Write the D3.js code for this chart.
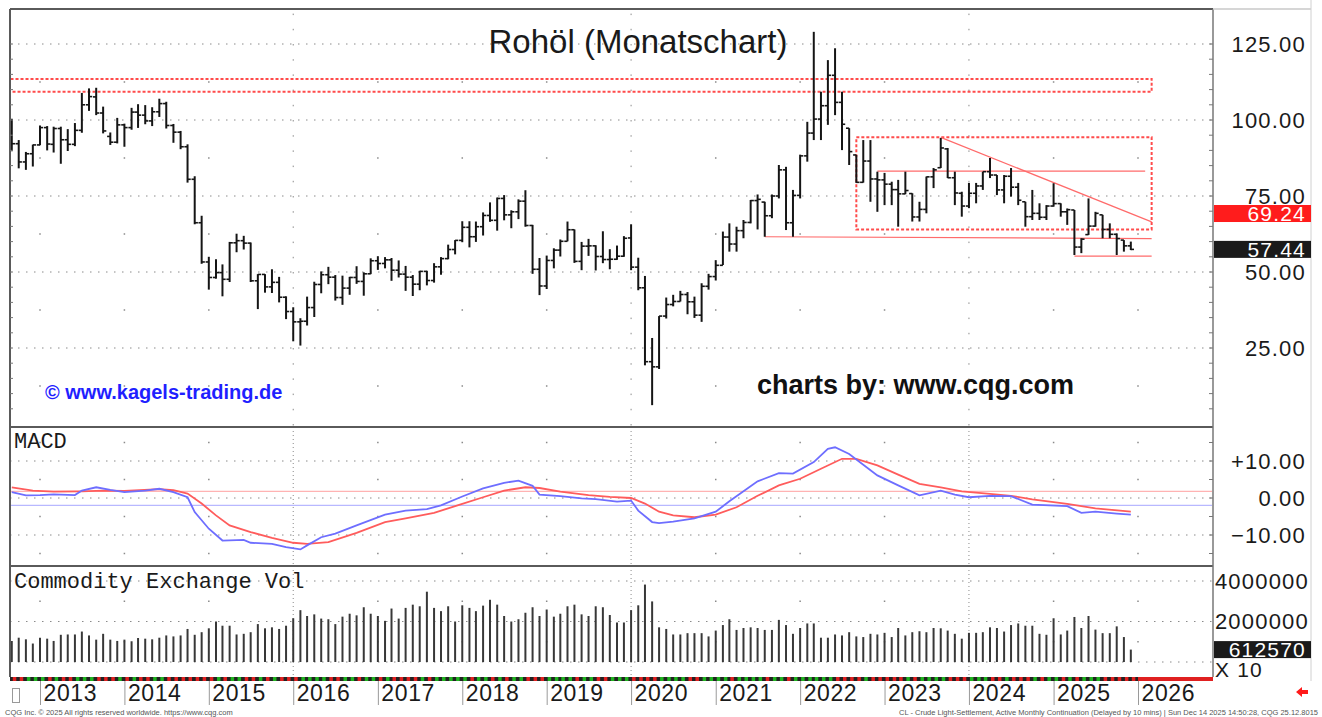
<!DOCTYPE html>
<html lang="de">
<head>
<meta charset="utf-8">
<title>Rohöl (Monatschart)</title>
<script src="https://d3js.org/d3.v7.min.js"></script>
<style>
  body { margin: 0; background: #fff; }
  svg { display: block; }
  .axis text { font-family: "Liberation Sans", Arial, sans-serif; font-size: 22px; letter-spacing: 1.2px; fill: #1a1a1a; }
  .tag { font-family: "Liberation Sans", Arial, sans-serif; font-size: 21px; letter-spacing: 1.2px; fill: #fff; }
  .mono { font-family: "Liberation Mono", "DejaVu Sans Mono", monospace; font-size: 22px; fill: #1a1a1a; }
  .foot { font-family: "Liberation Sans", Arial, sans-serif; font-size: 7.5px; fill: #555; }
</style>
</head>
<body>
<svg width="1322" height="717"></svg>
<script>
// monthly OHLC, Sep 2012 .. Dec 2025 (one row per year)
const opens = [
  96.5, 92.2, 86.2, 88.9,
  91.8, 97.5, 92.0, 97.2, 93.5, 92.0, 96.6, 105.0, 107.6, 102.3, 94.6, 92.7,
  98.4, 97.5, 102.6, 101.6, 99.7, 102.7, 105.4, 98.2, 96.0, 91.2, 80.5, 66.2,
  53.3, 48.2, 49.8, 47.6, 59.6, 60.3, 59.5, 47.1, 49.2, 45.1, 46.6, 41.7,
  37.0, 33.6, 33.8, 38.3, 45.9, 49.1, 48.3, 41.6, 44.7, 48.2, 46.9, 49.4,
  53.7, 52.8, 54.0, 50.6, 49.3, 48.3, 46.0, 50.2, 47.2, 51.7, 54.4, 57.4,
  60.4, 64.7, 61.6, 64.9, 68.6, 67.0, 74.2, 68.8, 69.8, 73.3, 65.3, 50.9,
  45.4, 53.8, 57.2, 60.1, 63.9, 53.5, 58.5, 58.6, 55.1, 54.1, 54.2, 55.2,
  61.2, 51.6, 44.8, 20.5, 18.8, 35.5, 39.3, 40.3, 42.6, 40.2, 35.8, 45.3,
  48.5, 52.2, 61.5, 59.2, 63.6, 66.3, 73.5, 73.0, 68.5, 75.0, 83.6, 66.2,
  75.2, 88.2, 95.7, 100.3, 104.7, 114.7, 105.8, 97.3, 88.5, 79.5, 86.5, 80.6,
  80.3, 78.9, 77.1, 75.7, 75.8, 68.1, 70.6, 81.3, 84.3, 90.5, 81.0, 75.9,
  71.7, 75.9, 78.3, 83.0, 81.9, 77.0, 81.5, 77.9, 73.1, 68.2, 69.3, 68.0,
  71.7, 72.5, 69.8, 70.4, 58.2, 62.3, 65.1, 68.8, 64.0, 62.4, 60.5, 58.6
];
const highs = [
  100.4, 93.4, 89.5, 91.9,
  98.2, 98.0, 97.8, 97.8, 97.0, 99.0, 108.9, 110.4, 110.6, 104.4, 95.9, 100.7,
  98.8, 104.0, 105.2, 104.9, 104.2, 107.0, 106.0, 98.7, 96.4, 92.0, 81.5, 68.5,
  55.0, 54.2, 52.5, 59.9, 62.6, 61.9, 59.7, 49.3, 49.3, 50.9, 48.4, 42.0,
  38.4, 34.8, 41.9, 46.8, 50.2, 51.7, 49.0, 48.8, 48.4, 51.9, 49.9, 54.5,
  55.2, 54.9, 54.6, 53.8, 52.0, 49.0, 50.4, 50.4, 52.9, 54.9, 59.0, 60.5,
  66.7, 66.7, 66.6, 69.6, 72.9, 74.5, 75.3, 70.3, 73.9, 76.9, 65.5, 54.6,
  55.4, 57.8, 60.7, 66.6, 64.0, 59.9, 60.9, 58.8, 63.4, 57.5, 58.7, 61.8,
  65.7, 54.7, 48.7, 28.3, 35.5, 41.6, 42.5, 43.8, 43.4, 41.9, 46.3, 49.4,
  53.9, 63.3, 66.0, 64.9, 67.1, 73.7, 75.5, 73.1, 75.5, 85.2, 84.6, 77.0,
  88.6, 99.4, 129.0, 109.3, 119.7, 123.6, 109.3, 97.3, 88.5, 93.4, 93.4, 83.0,
  82.6, 79.7, 80.3, 83.0, 75.9, 73.1, 81.4, 84.2, 94.1, 90.8, 83.0, 76.4,
  79.3, 79.3, 83.0, 87.5, 81.9, 81.9, 84.2, 79.3, 73.1, 77.0, 72.6, 72.0,
  79.2, 72.6, 70.9, 70.4, 61.1, 74.2, 69.8, 68.8, 66.0, 62.7, 60.5, 60.0
];
const lows = [
  89.7, 84.1, 83.6, 84.7,
  91.7, 90.0, 89.3, 85.6, 89.8, 91.4, 95.8, 103.0, 101.6, 95.6, 91.8, 92.3,
  91.2, 96.8, 97.4, 98.6, 98.0, 101.0, 97.2, 92.5, 90.4, 79.4, 65.7, 52.7,
  44.2, 47.8, 42.0, 46.7, 56.5, 57.4, 46.7, 37.8, 43.2, 43.1, 40.0, 34.5,
  27.2, 25.8, 32.4, 35.2, 43.0, 46.0, 40.6, 39.2, 42.5, 46.1, 42.2, 49.3,
  50.7, 51.2, 47.1, 48.2, 43.8, 42.1, 44.0, 45.6, 46.5, 49.1, 54.2, 55.8,
  59.8, 58.1, 59.9, 62.0, 66.5, 63.6, 67.0, 64.4, 67.4, 64.9, 49.4, 42.4,
  44.4, 51.2, 55.1, 60.1, 53.0, 50.6, 55.3, 50.5, 52.9, 50.9, 54.0, 55.0,
  50.6, 44.0, 19.3, 6.2, 18.1, 34.7, 38.7, 40.3, 36.1, 34.9, 33.6, 44.2,
  47.2, 52.3, 56.7, 56.7, 61.1, 66.0, 64.0, 61.6, 67.7, 74.2, 63.8, 61.6,
  74.2, 86.3, 93.4, 93.4, 98.4, 101.6, 90.1, 85.2, 79.3, 79.4, 73.1, 69.8,
  72.0, 72.0, 64.9, 75.6, 66.6, 66.6, 69.3, 77.6, 84.2, 80.9, 72.0, 68.2,
  71.0, 72.6, 77.0, 80.9, 75.3, 72.6, 74.8, 72.0, 64.9, 67.1, 67.1, 67.1,
  71.5, 68.2, 65.5, 55.6, 56.2, 62.2, 64.9, 61.1, 61.1, 55.6, 56.7, 57.2
];
const closes = [
  92.2, 86.2, 88.9, 91.8,
  97.5, 92.1, 97.2, 93.5, 92.0, 96.6, 105.0, 107.7, 102.3, 96.4, 92.7, 98.4,
  97.5, 102.6, 101.6, 99.7, 102.7, 105.4, 98.2, 96.0, 91.2, 80.5, 66.2, 53.3,
  48.2, 49.8, 47.6, 59.6, 60.3, 59.5, 47.1, 49.2, 45.1, 46.6, 41.7, 37.0,
  33.6, 33.8, 38.3, 45.9, 49.1, 48.3, 41.6, 44.7, 48.2, 46.9, 49.4, 53.7,
  52.8, 54.0, 50.6, 49.3, 48.3, 46.0, 50.2, 47.2, 51.7, 54.4, 57.4, 60.4,
  64.7, 61.6, 64.9, 68.6, 67.0, 74.2, 68.8, 69.8, 73.3, 65.3, 50.9, 45.4,
  53.8, 57.2, 60.1, 63.9, 53.5, 58.5, 58.6, 55.1, 54.1, 54.2, 55.2, 61.1,
  51.6, 44.8, 20.5, 18.8, 35.5, 39.3, 40.3, 42.6, 40.2, 35.8, 45.3, 48.5,
  52.2, 61.5, 59.2, 63.6, 66.3, 73.5, 73.9, 68.5, 75.0, 83.6, 66.2, 75.2,
  88.2, 95.7, 100.3, 104.7, 114.7, 105.8, 98.6, 89.6, 79.5, 86.5, 80.6, 80.3,
  78.9, 77.1, 75.7, 76.8, 68.1, 70.6, 81.3, 83.6, 90.8, 81.0, 76.0, 71.7,
  75.9, 78.3, 83.0, 81.9, 77.0, 81.5, 77.9, 73.6, 68.2, 69.3, 68.0, 71.7,
  72.5, 69.8, 70.5, 58.2, 60.8, 65.1, 69.3, 64.0, 62.4, 61.0, 58.6, 57.44
];
const volumes = [
  1040000, 1200000, 1120000, 912000,
  1200000, 1152000, 1040000, 1344000, 1360000, 1360000, 1504000, 1312000, 1104000, 1392000, 1104000, 1040000,
  1104000, 1024000, 1184000, 1152000, 1120000, 1200000, 1312000, 1264000, 1312000, 1632000, 1344000, 1472000,
  1664000, 2000000, 1792000, 1792000, 1360000, 1392000, 1472000, 1872000, 1664000, 1712000, 1632000, 1792000,
  2160000, 2560000, 2272000, 2352000, 2144000, 2112000, 1872000, 2240000, 2384000, 2304000, 2704000, 2384000,
  2272000, 2032000, 2640000, 2144000, 2672000, 2832000, 2752000, 3472000, 2672000, 2512000, 2752000, 2000000,
  2800000, 2672000, 2512000, 2784000, 3072000, 2832000, 2272000, 2000000, 2112000, 2432000, 2704000, 2272000,
  2592000, 2240000, 2384000, 2752000, 2832000, 2352000, 2272000, 2752000, 2704000, 2320000, 1952000, 1952000,
  2560000, 2800000, 3824000, 2992000, 1712000, 1632000, 1360000, 1360000, 1424000, 1424000, 1424000, 1264000,
  1552000, 1824000, 2112000, 1584000, 1680000, 1712000, 1680000, 1584000, 1584000, 2080000, 1824000, 1392000,
  1680000, 1904000, 1904000, 1200000, 1200000, 1360000, 1312000, 1472000, 1264000, 1232000, 1392000, 1360000,
  1440000, 1232000, 1680000, 1312000, 1472000, 1520000, 1472000, 1680000, 1664000, 1552000, 1392000, 1152000,
  1440000, 1440000, 1472000, 1712000, 1680000, 1504000, 1824000, 1904000, 1792000, 1792000, 1392000, 1344000,
  2160000, 1360000, 1552000, 2224000, 1680000, 2272000, 1600000, 1424000, 1424000, 1760000, 1232000, 612570
];

// MACD (blue) and signal (red)
const macdDates = ["2012-09","2012-11","2013-01","2013-03","2013-06","2013-07","2013-09","2013-11","2014-01","2014-04","2014-06","2014-08","2014-10","2014-11","2015-01","2015-03","2015-06","2015-07","2015-10","2015-12","2016-02","2016-03","2016-05","2016-07","2016-10","2017-02","2017-05","2017-08","2017-10","2018-01","2018-04","2018-07","2018-09","2018-11","2018-12","2019-03","2019-06","2019-08","2019-11","2020-01","2020-02","2020-04","2020-05","2020-07","2020-10","2021-01","2021-03","2021-07","2021-10","2021-12","2022-03","2022-05","2022-06","2022-08","2022-12","2023-03","2023-06","2023-09","2023-11","2024-01","2024-04","2024-07","2024-10","2025-03","2025-05","2025-07","2025-10","2025-12"];
const macdValues = [1.6, 0.7, 0.8, 1.0, 0.8, 2.0, 2.9, 2.2, 1.6, 2.0, 2.5, 1.6, 0.2, -3.8, -8.3, -11.5, -11.3, -12.1, -12.4, -13.3, -13.9, -12.8, -10.6, -9.6, -7.4, -4.5, -3.4, -3.0, -2.0, 0.4, 2.6, 4.1, 4.7, 3.3, 0.9, 0.5, -0.1, -0.3, -1.0, -0.7, -3.4, -6.5, -6.8, -6.4, -5.5, -3.7, -0.9, 4.5, 6.7, 6.6, 9.7, 13.3, 13.7, 11.9, 6.1, 3.4, 0.7, 2.0, 0.9, 0.2, 0.6, 0.5, -1.8, -2.2, -4.0, -3.7, -4.2, -4.5];
const signalDates = ["2012-09","2012-12","2013-03","2013-07","2013-10","2014-01","2014-06","2014-08","2014-10","2014-12","2015-02","2015-04","2015-07","2015-10","2016-01","2016-03","2016-06","2016-10","2017-02","2017-05","2017-09","2018-01","2018-04","2018-07","2018-10","2018-12","2019-03","2019-07","2019-10","2020-01","2020-03","2020-05","2020-07","2020-10","2021-01","2021-04","2021-07","2021-10","2022-01","2022-04","2022-07","2022-09","2022-12","2023-03","2023-06","2023-09","2023-12","2024-04","2024-07","2024-10","2025-03","2025-07","2025-12"];
const signalValues = [2.9, 2.0, 1.7, 1.8, 2.0, 1.9, 2.4, 2.1, 1.2, -1.5, -4.7, -7.4, -9.2, -10.8, -12.1, -12.4, -11.9, -9.4, -6.5, -5.5, -4.0, -1.6, 0.2, 2.0, 2.9, 2.7, 1.7, 0.8, 0.3, 0.0, -1.5, -3.7, -4.7, -5.2, -4.5, -2.5, 0.6, 3.4, 5.2, 7.9, 10.6, 10.6, 8.8, 6.3, 3.8, 2.9, 1.8, 1.1, 0.6, -0.4, -1.6, -2.8, -3.7];
const macdLevels = [1.8, -2.0];   // red and blue reference lines

// tick labels
const priceTicks = [25, 50, 75, 100, 125];
const macdTicks = [-10, 0, 10];
const volTicks = [2000000, 4000000];
const markerPrice = 69.24;
const lastPrice = 57.44;
const lastVolume = 612570;

// drawn annotations: [month, price]
const resistanceZone = [["2012-06", 109.3], ["2026-03", 113.5]];
const rangeBox = [["2022-09", 64.0], ["2026-03", 94.3]];
const trendLine = [["2023-09", 94.3], ["2026-03", 66.5]];
const midLine = [["2022-12", 83.2], ["2026-02", 83.2]];
const supportLine = [["2021-08", 61.6], ["2026-03", 61.0]];
const lowLine = [["2025-04", 55.2], ["2026-03", 55.2]];

const parseMonth = d3.timeParse("%Y-%m");
const months = d3.timeMonth.range(new Date(2012, 8, 1), new Date(2026, 0, 1));
const bars = months.map((date, i) => ({date, o: opens[i], h: highs[i], l: lows[i], c: closes[i], v: volumes[i]}));
const macd = macdDates.map((d, i) => ({date: parseMonth(d), v: macdValues[i]}));
const signal = signalDates.map((d, i) => ({date: parseMonth(d), v: signalValues[i]}));

const svg = d3.select("svg");
const L = 10, R = 1213;
const topMain = 9, botMain = 427, botMacd = 566, botVol = 677;

const x = d3.scaleTime().domain([new Date(2013, 0, 1), new Date(2026, 0, 1)]).range([40, 1138]);
const y = d3.scaleLinear().domain([0, 125]).range([424, 44]);
const yM = d3.scaleLinear().domain([-10, 10]).range([535, 461]);
const yV = d3.scaleLinear().domain([0, 4000000]).range([662, 581]);

const defs = svg.append("defs");
[["clipMain", topMain, botMain], ["clipMacd", botMain, botMacd], ["clipVol", botMacd, botVol]].forEach(([id, t, b]) => {
  defs.append("clipPath").attr("id", id).append("rect")
    .attr("x", L + 1).attr("y", t + 1).attr("width", R - L - 2).attr("height", b - t - 2);
});

// grid: dotted lines, dotted verticals every 4 years, single dots in between
const years = d3.timeYear.range(new Date(2013, 0, 1), new Date(2026, 0, 2));
const isBig = d => [2016, 2020, 2024].includes(d.getFullYear());
const bigYears = years.filter(isBig);
const smallYears = years.filter(d => !isBig(d));

function grid(scale, lines, mids, top, bottom, vDash) {
  const g = svg.append("g").attr("fill", "#8a8a8a").attr("stroke", "#8a8a8a");
  g.selectAll("line.h").data(lines).join("line").attr("class", "h")
    .attr("x1", L).attr("x2", R).attr("y1", d => scale(d)).attr("y2", d => scale(d))
    .attr("stroke-dasharray", "1.5,6.5");
  g.selectAll("line.v").data(bigYears).join("line").attr("class", "v")
    .attr("x1", d => x(d)).attr("x2", d => x(d)).attr("y1", top).attr("y2", bottom)
    .attr("stroke-dasharray", vDash);
  g.selectAll("rect").data(d3.cross(smallYears, mids)).join("rect")
    .attr("stroke", "none")
    .attr("x", d => x(d[0]) - 0.75).attr("y", d => scale(d[1]) - 0.75)
    .attr("width", 1.5).attr("height", 1.5);
}
grid(y, priceTicks, [12.5, 37.5, 62.5, 87.5, 112.5], y(135), botMain, "1.5,13.7");
grid(yM, macdTicks, [-15, -5, 5, 15], botMain, botMacd, "1,3");
grid(yV, [0].concat(volTicks), [1000000, 3000000], botMacd, botVol, "1,3");

// annotations
const ann = svg.append("g").attr("clip-path", "url(#clipMain)").attr("fill", "none");
function box(pts) {
  const x0 = x(parseMonth(pts[0][0])), x1 = x(parseMonth(pts[1][0]));
  const y0 = y(pts[1][1]), y1 = y(pts[0][1]);
  ann.append("rect").attr("x", x0).attr("y", y0).attr("width", x1 - x0).attr("height", y1 - y0)
    .attr("stroke", "#ff2b2b").attr("stroke-opacity", 0.85).attr("stroke-width", 2).attr("stroke-dasharray", "3,2");
}
box(resistanceZone);
box(rangeBox);
const annLine = d3.line().x(d => x(parseMonth(d[0]))).y(d => y(d[1]));
[trendLine, midLine, supportLine, lowLine].forEach(pts => {
  ann.append("path").attr("d", annLine(pts)).attr("stroke", "#ff6b6b").attr("stroke-width", 1.2);
});

// price bars
const gBars = svg.append("g").attr("clip-path", "url(#clipMain)").attr("stroke", "#151515");
gBars.selectAll("line.hl").data(bars).join("line").attr("class", "hl")
  .attr("stroke-width", 2)
  .attr("x1", d => x(d.date)).attr("x2", d => x(d.date))
  .attr("y1", d => y(d.h)).attr("y2", d => y(d.l));
gBars.selectAll("line.op").data(bars).join("line").attr("class", "op")
  .attr("stroke-width", 1.6)
  .attr("x1", d => x(d.date) - 3.2).attr("x2", d => x(d.date))
  .attr("y1", d => y(d.o)).attr("y2", d => y(d.o));
gBars.selectAll("line.cl").data(bars).join("line").attr("class", "cl")
  .attr("stroke-width", 1.6)
  .attr("x1", d => x(d.date)).attr("x2", d => x(d.date) + 3.2)
  .attr("y1", d => y(d.c)).attr("y2", d => y(d.c));

// MACD panel
const gM = svg.append("g").attr("clip-path", "url(#clipMacd)").attr("fill", "none");
gM.selectAll("line.lvl").data(macdLevels).join("line").attr("class", "lvl")
  .attr("x1", L).attr("x2", R).attr("y1", d => yM(d)).attr("y2", d => yM(d))
  .attr("stroke", (d, i) => i === 0 ? "#ffb3b3" : "#b8b8ff").attr("stroke-width", 1.2);
const mLine = d3.line().x(d => x(d.date)).y(d => yM(d.v));
gM.append("path").attr("d", mLine(signal)).attr("stroke", "#ff5c5c").attr("stroke-width", 1.8);
gM.append("path").attr("d", mLine(macd)).attr("stroke", "#6e6eff").attr("stroke-width", 1.8);

// volume panel
svg.append("g").attr("clip-path", "url(#clipVol)").attr("stroke", "#383838").attr("stroke-width", 2)
  .selectAll("line").data(bars).join("line")
  .attr("x1", d => x(d.date)).attr("x2", d => x(d.date))
  .attr("y1", yV(0)).attr("y2", d => yV(d.v));

// frame
const frame = svg.append("g").attr("stroke", "#5a5a5a").attr("stroke-width", 2);
frame.append("line").attr("x1", L).attr("x2", R).attr("y1", topMain).attr("y2", topMain);
[botMain, botMacd].forEach(v => frame.append("line").attr("x1", L).attr("x2", R).attr("y1", v).attr("y2", v));
frame.append("line").attr("x1", L).attr("x2", L).attr("y1", topMain).attr("y2", botVol);
frame.append("line").attr("x1", R).attr("x2", R).attr("y1", topMain).attr("y2", botVol).attr("stroke", "#777").attr("stroke-width", 1.5);
svg.append("line").attr("x1", R).attr("x2", 1311).attr("y1", topMain).attr("y2", topMain).attr("stroke", "#c8c8c8").attr("stroke-width", 1.5);
svg.append("line").attr("x1", 1311).attr("x2", 1311).attr("y1", 0).attr("y2", 681).attr("stroke", "#d0d0d0").attr("stroke-width", 1);

// small ticks on the panel edges
const ticks = svg.append("g").attr("stroke", "#777").attr("stroke-width", 1);
const mainMinor = d3.range(5, 130, 5).filter(p => y(p) > topMain + 2);
ticks.selectAll("line.rm").data(mainMinor).join("line").attr("class", "rm")
  .attr("x1", R - 4).attr("x2", R).attr("y1", d => y(d)).attr("y2", d => y(d));
ticks.selectAll("line.lm").data(mainMinor).join("line").attr("class", "lm")
  .attr("x1", L).attr("x2", L + 3).attr("y1", d => y(d)).attr("y2", d => y(d));
ticks.selectAll("line.rq").data(d3.range(-15, 20, 5)).join("line").attr("class", "rq")
  .attr("x1", R - 4).attr("x2", R).attr("y1", d => yM(d)).attr("y2", d => yM(d));

// right axes
function styleAxis(g) {
  g.attr("class", "axis");
  g.select(".domain").remove();
  g.selectAll(".tick line").remove();
}
svg.append("g").attr("transform", "translate(1306,0)")
  .call(d3.axisLeft(y).tickValues(priceTicks).tickFormat(d3.format(".2f")).tickSize(0).tickPadding(0))
  .call(styleAxis);
svg.append("g").attr("transform", "translate(1306,0)")
  .call(d3.axisLeft(yM).tickValues(macdTicks).tickFormat(d => (d > 0 ? "+" : "") + d3.format(".2f")(d)).tickSize(0).tickPadding(0))
  .call(styleAxis);
svg.append("g").attr("transform", "translate(1309,0)")
  .call(d3.axisLeft(yV).tickValues(volTicks).tickFormat(d3.format("d")).tickSize(0).tickPadding(0))
  .call(styleAxis);

// value tags on the right axis
function tag(value, scale, fill, fmt) {
  const cy = scale(value);
  svg.append("rect").attr("x", R + 1).attr("y", cy - 8.5).attr("width", 1311 - R - 1).attr("height", 17).attr("fill", fill);
  svg.append("text").attr("class", "tag").attr("x", 1306).attr("y", cy).attr("dy", "0.36em")
    .attr("text-anchor", "end").text(fmt(value));
}
tag(markerPrice, y, "#ff1c1c", d3.format(".2f"));
tag(lastPrice, y, "#1a1a1a", d3.format(".2f"));
tag(lastVolume, yV, "#1a1a1a", d3.format("d"));
svg.append("text").attr("x", R + 2).attr("y", 677)
  .attr("font-family", "Liberation Sans, Arial, sans-serif").attr("font-size", 21).attr("letter-spacing", "1.2px").attr("fill", "#1a1a1a")
  .text("X 10");

// month strip and year axis
const x2026 = x(new Date(2026, 0, 1));
svg.append("rect").attr("x", L).attr("y", 677).attr("width", x2026 - L).attr("height", 4).attr("fill", "#222");
svg.selectAll("rect.strip").data(bars).join("rect").attr("class", "strip")
  .attr("x", d => x(d.date) + 1).attr("y", 677).attr("width", 3.5).attr("height", 4)
  .attr("fill", d => d.c >= d.o ? "#1fb31f" : "#e02020");
svg.append("rect").attr("x", x2026).attr("y", 677).attr("width", R - x2026).attr("height", 4).attr("fill", "#e02020");

const gx = svg.append("g").attr("transform", "translate(0,681)")
  .call(d3.axisBottom(x).ticks(d3.timeYear.every(1)).tickFormat(d3.timeFormat("%Y")).tickSize(24));
gx.select(".domain").remove();
gx.selectAll(".tick line").attr("stroke", "#9a9a9a");
gx.selectAll(".tick text").attr("x", 3).attr("y", 12).attr("dy", "0.36em").attr("text-anchor", "start")
  .attr("font-family", "Liberation Sans, Arial, sans-serif").attr("font-size", 23).attr("letter-spacing", "0.6px").attr("fill", "#1a1a1a");

svg.append("rect").attr("x", 12.5).attr("y", 688.5).attr("width", 7).attr("height", 14).attr("fill", "none").attr("stroke", "#999");
svg.append("path").attr("d", "M1296,692 l6,-5 v3 h6 v4 h-6 v3 z").attr("fill", "#ff1a1a");

// texts
svg.append("text").attr("x", 638).attr("y", 53).attr("text-anchor", "middle")
  .attr("font-family", "Liberation Sans, Arial, sans-serif").attr("font-size", 33).attr("fill", "#1a1a1a")
  .text("Rohöl (Monatschart)");
svg.append("text").attr("x", 45).attr("y", 399)
  .attr("font-family", "Liberation Sans, Arial, sans-serif").attr("font-size", 20).attr("font-weight", "bold").attr("fill", "#1f1fff")
  .text("© www.kagels-trading.de");
svg.append("text").attr("x", 757).attr("y", 394)
  .attr("font-family", "Liberation Sans, Arial, sans-serif").attr("font-size", 27).attr("font-weight", "bold").attr("fill", "#111")
  .text("charts by: www.cqg.com");
svg.append("text").attr("class", "mono").attr("x", 14).attr("y", 448).text("MACD");
svg.append("text").attr("class", "mono").attr("x", 14).attr("y", 588).text("Commodity Exchange Vol");
svg.append("text").attr("class", "foot").attr("x", 5).attr("y", 715)
  .text("CQG Inc. © 2025 All rights reserved worldwide. https://www.cqg.com");
svg.append("text").attr("class", "foot").attr("x", 1318).attr("y", 715).attr("text-anchor", "end")
  .text("CL - Crude Light-Settlement, Active Monthly Continuation (Delayed by 10 mins) | Sun Dec 14 2025 14:50:28, CQG 25.12.8015");
</script>
</body>
</html>
